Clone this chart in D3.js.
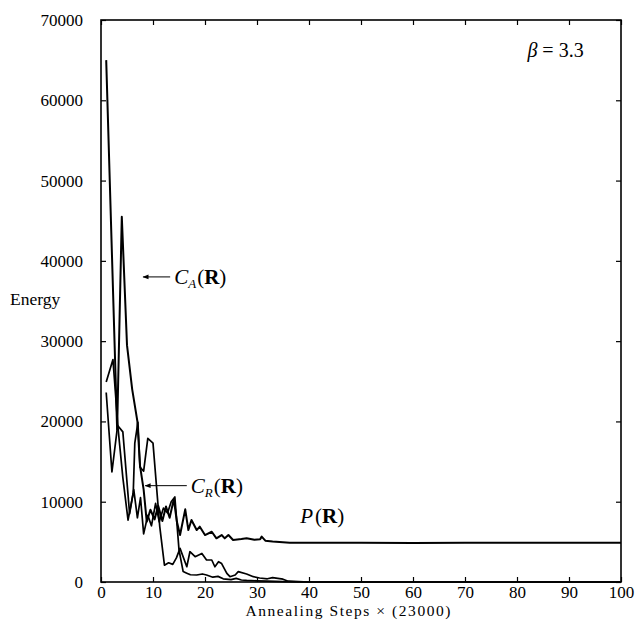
<!DOCTYPE html>
<html><head><meta charset="utf-8">
<script src="https://cdn.jsdelivr.net/npm/d3@7"></script>
<style>
body{margin:0;background:#fff;}
text{font-family:"Liberation Serif","DejaVu Serif",serif;fill:#000;}
</style></head>
<body><svg id="c" width="638" height="620"></svg>
<script>
// ---- data ----
const xTicks = [0,10,20,30,40,50,60,70,80,90,100];
const yTicks = [0,10000,20000,30000,40000,50000,60000,70000];

// series: [annealing step, energy]
const seriesP = [[1,65000],[3.1,19000],[4,45500],[5,29500],[6,24000],[7,20000],[7.5,14500],[8.2,11500],[8.8,7500],[9.5,9000],[10.3,7800],[11,9500],[11.8,7600],[12.5,9400],[13.2,8000],[14,10300],[14.6,7500],[15.2,5850],[16.2,9050],[16.8,6470],[17.4,7720],[18.4,6470],[19,6890],[20,5850],[21.3,6260],[22.2,5440],[23.2,5850],[23.8,5440],[24.5,5850],[25.4,5230],[27,5350],[28,5440],[29.5,5250],[30.6,5330],[30.9,5650],[31.6,5150],[33,5050],[36.3,4900],[40,4880],[50,4880],[60,4870],[70,4880],[80,4880],[90,4880],[100,4880]];
const seriesMid = [[1,24900],[2.3,27700],[3.3,19000],[4.2,13000],[5.2,7700],[6.2,11100],[6.5,17300],[7.1,19900],[7.5,14300],[8.2,13800],[9,17900],[10,17300],[11.3,6900],[12.2,2100],[13,2400],[13.8,2200],[14.5,3000],[15.2,4190],[16.5,1900],[17.1,3770],[18.1,3150],[19.4,3560],[20.3,2740],[21.3,2740],[21.9,1900],[22.6,2530],[23.2,2300],[24.2,1080],[24.8,660],[25.8,870],[26.4,1290],[28,1000],[29.3,660],[30.5,500],[32,400],[33,550],[35,350],[36,100],[38,50],[40,0],[50,0],[60,0],[70,0],[80,0],[90,0],[100,0]];
const seriesLow = [[1,23600],[2.1,13700],[3.2,19500],[4.2,18700],[5.5,8500],[6.3,11500],[7,8000],[7.6,10500],[8.2,6000],[9,8300],[9.7,7000],[10.5,9800],[11.2,7500],[12,9200],[12.8,8600],[13.5,10000],[14.2,10600],[15,4000],[15.8,1300],[16.5,1100],[17.2,900],[18.4,870],[19.5,1000],[20.3,870],[21.5,600],[22.5,700],[23.5,400],[25,300],[26,450],[27,250],[28,200],[30,150],[32,100],[35,50],[40,0],[50,0],[60,0],[70,0],[80,0],[90,0],[100,0]];

// annotations: [arrow tail x, arrow head x, energy]
const arrowCA = [13.3, 8.1, 38000];
const arrowCR = [16.5, 8.5, 12000];
const labelP = [38.3, 7300];
const labelBeta = [82, 65400];

// ---- layout ----
const svg = d3.select("#c");
const L = 101, R = 621, T = 20, B = 582;
const x = d3.scaleLinear().domain([0,100]).range([L,R]);
const y = d3.scaleLinear().domain([0,70000]).range([B,T]);

const g = svg.append("g");
// frame
g.append("rect").attr("x",L).attr("y",T).attr("width",R-L).attr("height",B-T)
  .attr("fill","none").attr("stroke","#000").attr("stroke-width",1.6);

const tl = 5;
// axes with inward ticks
const axB = d3.axisBottom(x).tickValues(xTicks).tickSize(-tl).tickPadding(4).tickFormat(d3.format("d"));
const axL = d3.axisLeft(y).tickValues(yTicks).tickSize(-tl).tickPadding(18).tickFormat(d3.format("d"));
const axT = d3.axisTop(x).tickValues(xTicks).tickSize(-tl).tickFormat("");
const axR = d3.axisRight(y).tickValues(yTicks).tickSize(-tl).tickFormat("");

function style(sel){
  sel.select(".domain").remove();
  sel.selectAll(".tick line").attr("stroke","#000").attr("stroke-width",1.2);
  sel.selectAll(".tick text").attr("font-family","Liberation Serif, DejaVu Serif, serif").attr("font-size",17).attr("fill","#000");
}
g.append("g").attr("transform",`translate(0,${B})`).call(axB).call(style);
g.append("g").attr("transform",`translate(${L},0)`).call(axL).call(style);
g.append("g").attr("transform",`translate(0,${T})`).call(axT).call(style);
g.append("g").attr("transform",`translate(${R},0)`).call(axR).call(style);

// axis titles
svg.append("text").attr("x",348).attr("y",615.5).attr("text-anchor","middle").attr("font-size",15.5)
  .attr("textLength",205).attr("lengthAdjust","spacing")
  .text("Annealing Steps × (23000)");
svg.append("text").attr("x",10).attr("y",305).attr("font-size",17.5).text("Energy");

// lines
const line = d3.line().x(d=>x(d[0])).y(d=>y(d[1]));
[[seriesP,2],[seriesMid,1.7],[seriesLow,1.7]].forEach(([s,w])=>{
  g.append("path").datum(s).attr("d",line).attr("fill","none").attr("stroke","#000")
   .attr("stroke-width",w).attr("stroke-linejoin","round");
});

// arrow marker
svg.append("defs").append("marker").attr("id","ah").attr("viewBox","0 0 10 10")
  .attr("refX",9).attr("refY",5).attr("markerWidth",7).attr("markerHeight",6).attr("orient","auto")
  .attr("markerUnits","userSpaceOnUse")
  .append("path").attr("d","M0,1 L10,5 L0,9 Z").attr("fill","#000");

function label(ax, sub){
  g.append("line").attr("x1",x(ax[0])).attr("x2",x(ax[1])).attr("y1",y(ax[2])).attr("y2",y(ax[2]))
   .attr("stroke","#000").attr("stroke-width",1).attr("marker-end","url(#ah)");
  const t = svg.append("text").attr("x",x(ax[0])+4).attr("y",y(ax[2])+7).attr("font-size",21);
  t.append("tspan").attr("font-style","italic").text("C");
  t.append("tspan").attr("font-style","italic").attr("font-size",13).attr("dy",4).text(sub);
  t.append("tspan").attr("dy",-4).attr("dx",1).text("(");
  t.append("tspan").attr("font-weight","bold").text("R");
  t.append("tspan").text(")");
}
label(arrowCA,"A");
label(arrowCR,"R");

const tp = svg.append("text").attr("x",x(labelP[0])).attr("y",y(labelP[1])).attr("font-size",21);
tp.append("tspan").attr("font-style","italic").text("P");
tp.append("tspan").attr("dx",2).text("(");
tp.append("tspan").attr("font-weight","bold").text("R");
tp.append("tspan").text(")");

const tb = svg.append("text").attr("x",x(labelBeta[0])).attr("y",y(labelBeta[1])).attr("font-size",20);
tb.append("tspan").attr("font-style","italic").text("β");
tb.append("tspan").text(" = 3.3");
</script></body></html>
